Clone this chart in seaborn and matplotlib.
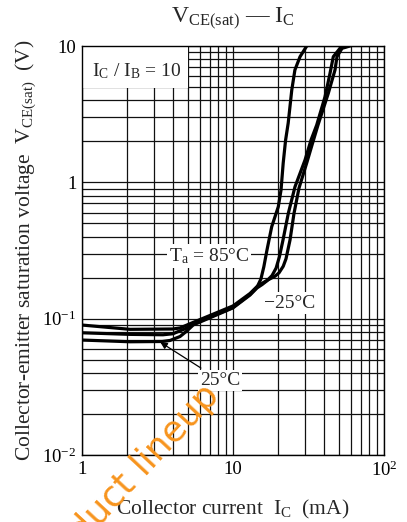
import matplotlib
matplotlib.use("Agg")
import matplotlib.pyplot as plt
import matplotlib.patches as patches
from matplotlib.ticker import NullFormatter
import seaborn as sns

# ---------------------------
# data
# ---------------------------

# Ta = 85 C
ic_85 = [1.0, 2.08, 3.44, 4.0, 4.9, 5.46, 7.40, 10.0, 12.96, 14.42, 15.3,
         16.0, 16.8, 18.04, 19.95, 20.8, 21.5, 22.3, 23.2, 24.5, 25.7, 27.8,
         30.8]
vce_85 = [0.0788, 0.0767, 0.0762, 0.0775, 0.0850, 0.0915, 0.105, 0.121,
          0.1505, 0.170, 0.195, 0.240, 0.320, 0.472, 0.662, 0.878, 1.385,
          2.04, 2.72, 4.75, 6.67, 8.35, 10.0]

# Ta = 25 C
ic_25 = [1.0, 2.08, 3.4, 3.83, 4.46, 4.9, 5.46, 7.40, 10.0, 12.96, 14.42,
         15.6, 16.72, 18.13, 19.3, 20.3, 21.43, 23.24, 25.74, 29.99, 32.86,
         35.84, 40.68, 43.90, 46.16, 51.13, 57.76]
vce_25 = [0.0697, 0.0677, 0.0680, 0.0692, 0.0740, 0.0805, 0.0900, 0.104,
          0.120, 0.149, 0.168, 0.178, 0.189, 0.207, 0.235, 0.285, 0.377,
          0.592, 0.928, 1.458, 2.043, 2.633, 4.246, 6.30, 8.35, 9.62, 10.0]

# Ta = -25 C
ic_m25 = [1.0, 2.08, 4.0, 4.46, 5.46, 7.40, 10.0, 12.96, 14.42, 16.0, 17.58,
          19.0, 20.17, 21.5, 22.44, 23.85, 25.35, 27.36, 30.91, 33.36, 36.55,
          42.77, 47.37, 48.84, 52.72, 59.54]
vce_m25 = [0.0898, 0.0835, 0.0840, 0.0855, 0.094, 0.108, 0.124, 0.153,
           0.172, 0.185, 0.196, 0.205, 0.217, 0.242, 0.275, 0.377, 0.592,
           0.908, 1.409, 1.878, 2.633, 4.498, 6.67, 8.35, 9.62, 10.0]

x_ticks = [1, 10, 100]
x_ticklabels = ["1", "10", r"$10^2$"]
y_ticks = [0.01, 0.1, 1, 10]
y_ticklabels = [r"$10^{-2}$", r"$10^{-1}$", "1", "10"]

# ---------------------------
# style
# ---------------------------

sns.set_theme(style="white")
plt.rcParams["font.family"] = ["Liberation Serif", "DejaVu Serif"]
plt.rcParams["mathtext.fontset"] = "custom"
plt.rcParams["mathtext.rm"] = "Liberation Serif"
plt.rcParams["mathtext.it"] = "Liberation Serif:italic"
plt.rcParams["axes.unicode_minus"] = True

fig = plt.figure(figsize=(4.07, 5.22), dpi=100)
ax = fig.add_axes([82 / 407, 1 - 455 / 522, 302 / 407, 409 / 522])

ax.set_xscale("log")
ax.set_yscale("log")
ax.set_xlim(1, 100)
ax.set_ylim(0.01, 10)

# curves
for ic, vce in [(ic_85, vce_85), (ic_25, vce_25), (ic_m25, vce_m25)]:
    sns.lineplot(x=ic, y=vce, ax=ax, color="black", lw=2.3,
                 sort=False, estimator=None, zorder=4)

# grid
ax.set_axisbelow(True)
ax.grid(which="both", color="#111111", lw=0.9)
ax.tick_params(which="both", length=0, pad=4, labelsize=13.5, colors="black")
for s in ax.spines.values():
    s.set_color("black")
    s.set_linewidth(1.0)

ax.set_xticks(x_ticks)
ax.set_xticklabels(x_ticklabels)
ax.set_yticks(y_ticks)
ax.set_yticklabels(y_ticklabels)
ax.xaxis.set_minor_formatter(NullFormatter())
ax.yaxis.set_minor_formatter(NullFormatter())

# labels
fig.text(233 / 407, 1 - 19 / 522,
         r"$\mathrm{V_{CE(sat)}}$ — $\mathrm{I_C}$",
         ha="center", va="center", fontsize=17)
ax.set_xlabel(r"Collector current  $\mathrm{I_C}$  (mA)", fontsize=15.5)
ax.xaxis.set_label_coords(0.5, -0.104)
ax.set_ylabel(r"Collector-emitter saturation voltage  $\mathrm{V_{CE(sat)}}$  (V)",
              fontsize=15.5)
ax.yaxis.set_label_coords(-0.145, 0.5)

# condition box top-left
ax.add_patch(patches.Rectangle((0, 0.897), 0.351, 0.103, transform=ax.transAxes,
                               facecolor="white", edgecolor="none", zorder=2))
ax.text(0.18, 0.939, r"$\mathrm{I_C}$ / $\mathrm{I_B}$ = 10", transform=ax.transAxes,
        ha="center", va="center", fontsize=14, zorder=3)

# curve labels
box = dict(facecolor="white", edgecolor="none", pad=1.5)
ax.text(6.93, 0.288, r"$\mathrm{T_a}$ = 85°C", ha="center", va="center",
        fontsize=14, bbox=box, zorder=5)
ax.text(23.85, 0.130, "\u221225°C", ha="center", va="center",
        fontsize=14, bbox=box, zorder=5)
ax.annotate("25°C", xy=(3.3, 0.0672), xytext=(8.2, 0.0354),
            ha="center", va="center", fontsize=14, bbox=box, zorder=5,
            arrowprops=dict(arrowstyle="-|>", color="black", lw=0.9,
                            mutation_scale=10, shrinkA=2, shrinkB=0))

# watermark
fig.text(221 / 407, 1 - 396 / 522, "Product lineup", rotation=47,
         rotation_mode="anchor", ha="right", va="baseline",
         fontsize=26, color="#f7941d", family="DejaVu Sans", zorder=10)

fig.savefig("out.png", dpi=100)
